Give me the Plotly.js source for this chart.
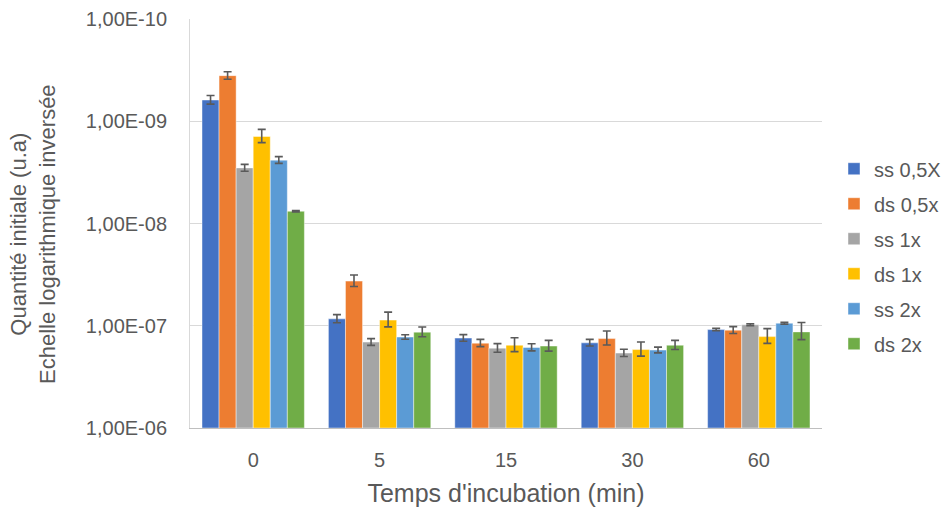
<!DOCTYPE html>
<html>
<head>
<meta charset="utf-8">
<script src="https://cdn.plot.ly/plotly-3.0.1.min.js"></script>
<style>html,body{margin:0;padding:0;background:#fff;}#chart{width:946px;height:511px;}</style>
</head>
<body>
<div id="chart"></div>
<script>
// ---- data ----
const categories = ['0', '5', '15', '30', '60'];
const seriesNames = ['ss 0,5X', 'ds 0,5x', 'ss 1x', 'ds 1x', 'ss 2x', 'ds 2x'];
const ss05 = [6.2e-10, 8.56e-8, 1.32e-7, 1.47e-7, 1.09e-7];
const ds05 = [3.58e-10, 3.66e-8, 1.48e-7, 1.334e-7, 1.104e-7];
const ss1  = [2.86e-9, 1.445e-7, 1.656e-7, 1.85e-7, 9.79e-8];
const ds1  = [1.41e-9, 8.81e-8, 1.55e-7, 1.71e-7, 1.277e-7];
const ss2  = [2.40e-9, 1.29e-7, 1.63e-7, 1.73e-7, 9.44e-8];
const ds2  = [7.59e-9, 1.155e-7, 1.58e-7, 1.55e-7, 1.148e-7];
const err_ss05 = [0.6e-10, 0.78e-8, 0.10e-7, 0.11e-7, 0.03e-7];
const err_ds05 = [0.3e-10, 0.47e-8, 0.12e-7, 0.21e-7, 0.085e-7];
const err_ss1  = [0.22e-9, 0.11e-7, 0.16e-7, 0.15e-7, 0.02e-7];
const err_ds1  = [0.21e-9, 1.45e-8, 0.24e-7, 0.27e-7, 0.21e-7];
const err_ss2  = [0.18e-9, 0.065e-7, 0.13e-7, 0.11e-7, 0.02e-7];
const err_ds2  = [0.12e-9, 1.25e-8, 0.19e-7, 0.16e-7, 0.22e-7];
const tickValues = [1e-10, 1e-9, 1e-8, 1e-7, 1e-6];
const tickLabels = ['1,00E-10', '1,00E-09', '1,00E-08', '1,00E-07', '1,00E-06'];
const barBase = 1e-6;

// ---- styling ----
const colors = ['#4472C4', '#ED7D31', '#A5A5A5', '#FFC000', '#5B9BD5', '#70AD47'];
const allVals = [ss05, ds05, ss1, ds1, ss2, ds2];
const allErrs = [err_ss05, err_ds05, err_ss1, err_ds1, err_ss2, err_ds2];
const FONT = 'Liberation Sans, Arial, sans-serif';
const TXT = '#595959';

const traces = allVals.map((vals, i) => ({
  type: 'bar',
  name: seriesNames[i],
  legendgroup: 'g' + i,
  x: categories,
  base: barBase,
  y: vals.map(v => v - barBase),
  marker: {color: colors[i], line: {color: 'rgba(255,255,255,0.55)', width: 0.8}},
  error_y: {type: 'data', array: allErrs[i], visible: true, color: '#5a5a5a', thickness: 1.6, width: 4},
  hoverinfo: 'skip'
}));

const layout = {
  width: 946, height: 511,
  margin: {l: 190, r: 124, t: 19, b: 83, autoexpand: false},
  paper_bgcolor: '#ffffff', plot_bgcolor: '#ffffff',
  barmode: 'group', bargap: 0.19, bargroupgap: 0,
  font: {family: FONT, color: TXT},
  showlegend: true,
  legend: {
    x: (834 - 190) / 632, xanchor: 'left', y: 0.42, yanchor: 'middle',
    font: {family: FONT, size: 20, color: TXT},
    bgcolor: 'rgba(0,0,0,0)', tracegroupgap: 6
  },
  xaxis: {
    type: 'category',
    showgrid: false, zeroline: false,
    showline: true, linecolor: '#bfbfbf', linewidth: 1,
    ticks: '', tickfont: {family: FONT, size: 20, color: TXT},
    ticklabelstandoff: 14,
    title: {text: "Temps d'incubation (min)", font: {family: FONT, size: 25, color: TXT}, standoff: 14}
  },
  yaxis: {
    type: 'log', range: [-6, -10],
    tickmode: 'array', tickvals: tickValues, ticktext: tickLabels,
    showgrid: true, gridcolor: '#d9d9d9', gridwidth: 1,
    zeroline: false,
    showline: true, linecolor: '#d9d9d9', linewidth: 1,
    ticks: '', tickfont: {family: FONT, size: 20, color: TXT},
    ticklabelstandoff: 18
  },
  annotations: [{
    xref: 'paper', yref: 'paper',
    x: (33 - 190) / 632, y: 1 - (234 - 19) / 409,
    xanchor: 'center', yanchor: 'middle',
    textangle: -90, showarrow: false,
    text: 'Quantité initiale (u.a)<br>Echelle logarithmique inversée',
    font: {family: FONT, size: 22, color: TXT}
  }]
};

Plotly.newPlot('chart', traces, layout, {displayModeBar: false, staticPlot: true});
</script>
</body>
</html>
